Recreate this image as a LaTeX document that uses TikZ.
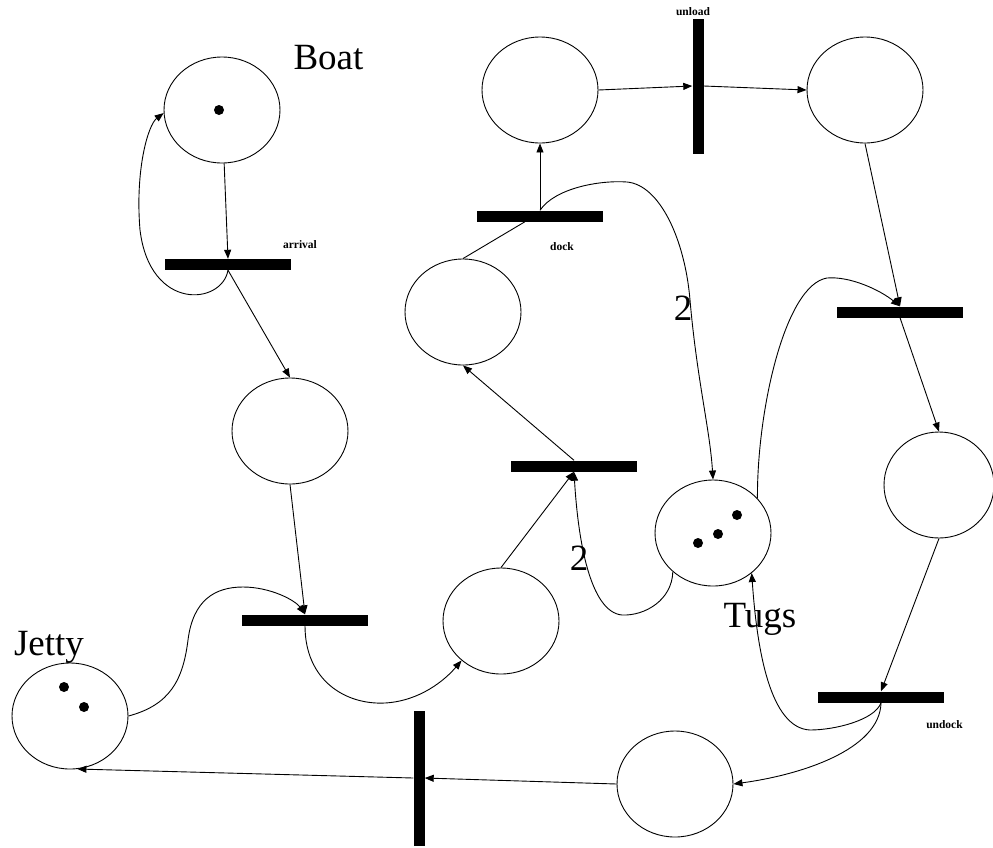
\documentclass[tikz,border=0pt]{standalone}
\usepackage{fontspec}
\setmainfont{Liberation Serif}
\usetikzlibrary{shapes.geometric,arrows.meta}
\begin{document}
\begin{tikzpicture}[x=1pt,y=-1pt,
  place/.style={draw,ellipse,line width=0.9pt,minimum width=116pt,minimum height=106pt,inner sep=0pt},
  hbar/.style={fill=black,rectangle,minimum width=126pt,minimum height=11pt,inner sep=0pt},
  vbar/.style={fill=black,rectangle,minimum width=11pt,minimum height=135pt,inner sep=0pt},
  token/.style={fill=black,circle,minimum size=10pt,inner sep=0pt},
  arc/.style={line width=0.9pt,-{Triangle[length=9pt,width=7pt]}},
  plainarc/.style={line width=0.9pt},
  biglbl/.style={font=\fontsize{37}{40}\selectfont,anchor=base,inner sep=0pt},
  smalllbl/.style={font=\fontsize{11.5}{12}\selectfont\bfseries,anchor=base,inner sep=0pt}]
\useasboundingbox (0,0) rectangle (993,847);

% places
\node[place] (boat) at (222,110) {};
\node[place] (p2) at (290,431) {};
\node[place] (jetty) at (70,716) {};
\node[place] (p3) at (501,621) {};
\node[place] (p4) at (675,784) {};
\node[place, minimum width=110pt] (p5) at (939,485) {};
\node[place] (p6) at (865,90) {};
\node[place] (p7) at (540,90) {};
\node[place] (p8) at (463,312) {};
\node[place] (tugs) at (713,533) {};

% tokens
\node[token] (bk1) at (219,110) {};
\node[token] (jt1) at (64,687) {};
\node[token] (jt2) at (84,707) {};
\node[token] (tg1) at (698,543) {};
\node[token] (tg2) at (718,534) {};
\node[token] (tg3) at (737,515) {};

% transitions
\node[hbar] (arrival) at (228,264.5) {};
\node[hbar] (t2) at (305,620) {};
\node[vbar] (tjetty) at (419,778) {};
\node[hbar] (undock) at (881,697) {};
\node[hbar] (tright) at (900,312) {};
\node[vbar] (unload) at (698,86) {};
\node[hbar] (dock) at (540,216) {};
\node[hbar] (tmid) at (574,466) {};

% labels
\node[biglbl] (lboat) at (328.5,69) {Boat};
\node[biglbl] (ltugs) at (760,627) {Tugs};
\node[biglbl] (ljetty) at (49,655) {Jetty};
\node[biglbl] (w1) at (683,320) {2};
\node[biglbl] (w2) at (579,570) {2};
\node[smalllbl] (lunload) at (693,15) {unload};
\node[smalllbl] (larrival) at (300,248) {arrival};
\node[smalllbl] (ldock) at (562,250) {dock};
\node[smalllbl] (lundock) at (944.5,728) {undock};

% arcs: boat cycle
\draw[arc] (boat) -- (arrival.north);
\draw[arc] (arrival.south) .. controls (222,305) and (150,312) .. (140,230)
  .. controls (135,170) and (148,125) .. (boat.183);
\draw[arc] (arrival.south) -- (p2.north);
\draw[arc] (p2.south) -- (t2.north);
\draw[arc] (jetty.east) .. controls (170,705) and (183,680) .. (188,640)
  .. controls (193,600) and (215,587) .. (243,587)
  .. controls (270,587) and (295,600) .. (t2.north);
\draw[arc] (t2.south) .. controls (305,680) and (345,705) .. (385,703)
  .. controls (420,701) and (445,680) .. (p3.225);
\draw[arc] (p3.north) -- (tmid.south);
\draw[arc] (tugs.224) .. controls (672,600) and (645,616) .. (622,615)
  .. controls (590,612) and (578,540) .. (tmid.south);
\draw[arc] (tmid.north) -- (p8.south);
\draw[plainarc] (p8.north) -- ([xshift=-15pt]dock.south);
\draw[arc] (dock.north) -- (p7.south);
\draw[arc] (dock.north) .. controls (555,188) and (600,180) .. (627,182)
  .. controls (660,185) and (685,240) .. (690,300)
  .. controls (697,380) and (710,430) .. (tugs.north);
\draw[arc] (p7.east) -- (unload.west);
\draw[arc] (unload.east) -- (p6.west);
\draw[arc] (p6.south) -- (tright.north);
\draw[arc] (tugs.38) .. controls (757,410) and (785,285) .. (827,278)
  .. controls (850,276) and (880,290) .. (tright.north);
\draw[arc] (tright.south) -- (p5.north);
\draw[arc] (p5.south) -- (undock.north);
\draw[arc] (undock.south) .. controls (875,720) and (835,730) .. (810,730)
  .. controls (770,728) and (757,650) .. (tugs.-46);
\draw[arc] (undock.south) .. controls (880,750) and (800,775) .. (p4.east);
\draw[arc] (p4.west) -- (tjetty.east);
\draw[arc] (tjetty.west) -- (jetty.-82);
\end{tikzpicture}
\end{document}
